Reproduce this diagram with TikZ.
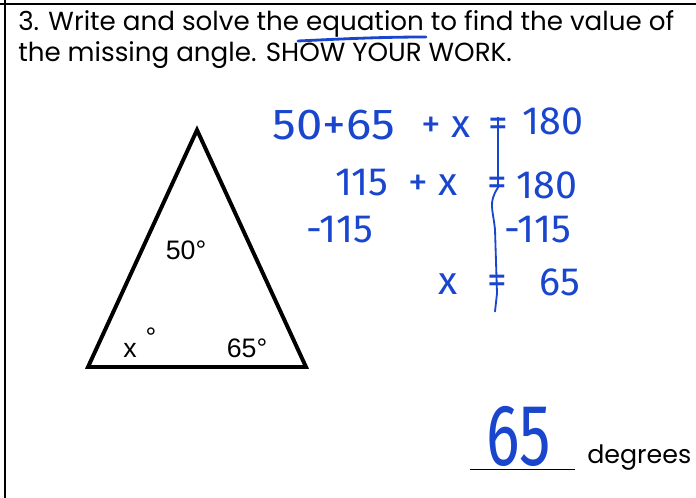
\documentclass[tikz,border=0pt]{standalone}
\usepackage{fontspec}
\setmainfont{Poppins}
\newfontfamily\arialfont{Liberation Sans}
\newfontfamily\handfont{Fira Sans}
\usetikzlibrary{calc}
\definecolor{ink}{RGB}{25,70,205}

\begin{document}
\begin{tikzpicture}[
        x=0.025cm, y=-0.025cm,
        printed/.style={
            inner sep=0pt,
            anchor=base west,
            font=\fontsize{18.6}{20}\selectfont
        },
        anglelbl/.style={
            inner sep=0pt,
            font=\arialfont\fontsize{19}{19}\selectfont
        },
        hand/.style={
            inner sep=0pt,
            text=ink,
            font=\handfont\fontsize{28}{28}\selectfont
        },
        penline/.style={
            draw=ink,
            line width=1.6pt,
            line cap=round
        }
    ]

        \useasboundingbox (0,0) rectangle (696,498);

        % page borders
        \draw[line width=1.2pt] (0,4) -- (696,4);
        \draw[line width=0.9pt] (5,0) -- (5,498);

        % question text
        \node[printed] (line1) at (18,31) {3. Write and solve the equation to find the value of};
        \node[printed] (line2) at (18,62) {the missing angle. SHOW YOUR WORK.};
        \draw[penline, line width=2pt] (298,41) .. controls (340,39) and (380,37) .. (426,37);

        % triangle
        \coordinate (apex) at (197,130);
        \coordinate (bl) at (88,367);
        \coordinate (br) at (306,367);
        \draw[line width=2.8pt, line join=miter] (apex) -- (bl) -- (br) -- cycle;

        \node[anglelbl] (top) at (186,250) {50°};
        \node[anglelbl] (xang) at (130,350) {x};
        \node[anglelbl] (xdeg) at (151,337) {°};
        \node[anglelbl] (right) at (247,348) {65°};

        % worked equation
        \node[hand] (suma) at (334,125) {\scalebox{1.2}[1.1]{50+65}};
        \node[hand] (plusa) at (446,127) {+ x};
        \node[hand] (eqa) at (498,127) {=};
        \node[hand] (rhsa) at (553,121) {180};

        \node[hand] (sumb) at (362,183) {115};
        \node[hand] (plusb) at (433,185) {+ x};
        \node[hand] (eqb) at (497,186) {=};
        \node[hand] (rhsb) at (547,185) {180};

        \node[hand] (subl) at (340,230) {-115};
        \node[hand] (subr) at (538,230) {-115};

        \node[hand] (xc) at (448,284) {x};
        \node[hand] (eqc) at (497,284) {=};
        \node[hand] (rhsc) at (560,282) {65};

        \draw[penline, line width=1.3pt] (eqa.north) -- ++(0,70)
            .. controls ++(-10,15) and ++(-2,-20) .. ++(-3,42)
            -- (eqc.south) -- ++(-2,18);

        % answer
        \draw[line width=0.7pt] (470,469) -- (575,469);
        \node[hand, font=\handfont\fontsize{62}{62}\selectfont] (answer) at (519,436) {\scalebox{0.72}[1]{65}};
        \node[printed, font=\fontsize{18}{20}\selectfont] (unit) at (587,463) {degrees};

    \end{tikzpicture}
\end{document}
